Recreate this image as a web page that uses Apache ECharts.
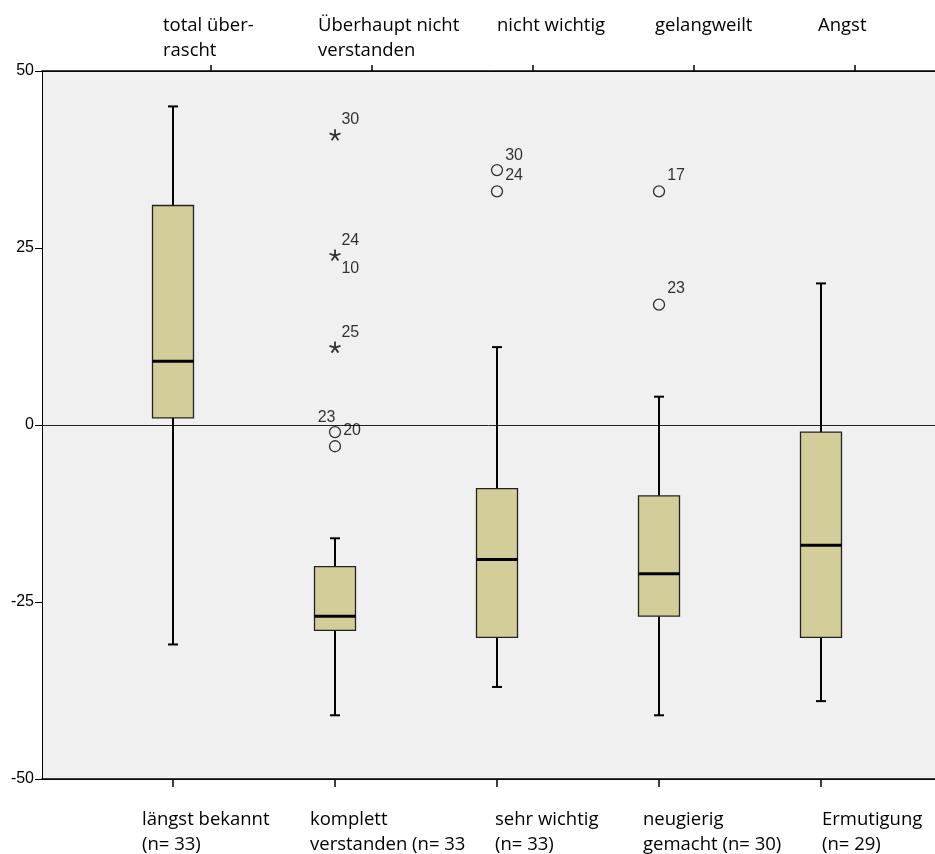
<!DOCTYPE html>
<html>
<head>
<meta charset="utf-8">
<script src="https://cdn.jsdelivr.net/npm/echarts@6.0.0/dist/echarts.min.js"></script>
<style>
  html, body { margin: 0; padding: 0; background: #fff; }
  #chart { width: 935px; height: 854px; }
</style>
</head>
<body>
<div id="chart"></div>
<script>
// Kategorien (unten und oben)
const bottomLabels = ['längst bekannt\n(n= 33)', 'komplett\nverstanden (n= 33', 'sehr wichtig\n(n= 33)', 'neugierig\ngemacht (n= 30)', 'Ermutigung\n(n= 29)'];
const topLabels = ['total über-\nrascht', 'Überhaupt nicht\nverstanden', 'nicht wichtig', 'gelangweilt', 'Angst'];

// Boxplot-Werte je Kategorie
const whiskerLow = [-31, -41, -37, -41, -39];
const q1 = [1, -29, -30, -27, -30];
const median = [9, -27, -19, -21, -17];
const q3 = [31, -20, -9, -10, -1];
const whiskerHigh = [45, -16, 11, 4, 20];

// Extremwerte (*) und Ausreißer (o)
const starCat = [1, 1, 1];
const starVals = [41, 24, 11];
const starIds = ['30', '24\n\n10', '25'];
const circleCat = [1, 1, 2, 2, 3, 3];
const circleVals = [-1, -3, 36, 33, 33, 17];
const circleIds = ['20', '', '30', '24', '17', '23'];
const circleIdsLeft = ['23', '', '', '', '', ''];

const yMin = -50, yMax = 50, yStep = 25;

// label placement tweaks (style only)
const topPad = [9, 2, 19, 15, 16];
const bottomPad = [4, 10, 33, 19, 36];
const circleLabelOffset = [[0, -1], [0, 0], [0, -15], [0, -16], [0, -16], [0, -16]];

const catFont = '"Open Sans", Lato, sans-serif';
const numFont = '"Liberation Sans", Arial, sans-serif';

const myChart = echarts.init(document.getElementById('chart'));

const hiddenY = (gi) => ({
  type: 'value', gridIndex: gi, min: yMin, max: yMax, show: false
});

// rich-Stile, um einzelne Beschriftungen nach rechts zu schieben
const padRich = (pads) => {
  const rich = {};
  pads.forEach((p, i) => {
    rich['p' + i] = { padding: [0, 0, 0, p], fontSize: 18.5, fontFamily: catFont, color: '#000', lineHeight: 25 };
  });
  return rich;
};
const padFormatter = (labels) => (value, index) =>
  labels[index].split('\n').map((l) => '{p' + index + '|' + l + '}').join('\n');

const starPath = 'path://M0,0L0,-1M0,0L0.95,-0.31M0,0L0.59,0.81M0,0L-0.59,0.81M0,0L-0.95,-0.31';

const option = {
  animation: false,
  backgroundColor: '#fff',
  grid: [
    { left: 42, right: 0, top: 71, bottom: 75, show: true, backgroundColor: '#f0f0f0', borderWidth: 0 },
    { left: 92, width: 810, top: 71, bottom: 75 },
    { left: 130, width: 808, top: 71, bottom: 75 },
    { left: 73, width: 810, top: 71, bottom: 75 },
    { left: 57, width: 810, top: 71, bottom: 75 }
  ],
  xAxis: [
    { type: 'value', gridIndex: 0, position: 'bottom', min: 0, max: 1,
      axisLine: { show: true, onZero: false, lineStyle: { color: '#000', width: 1.5 } },
      axisTick: { show: false }, axisLabel: { show: false }, splitLine: { show: false } },
    { type: 'value', gridIndex: 0, position: 'top', min: 0, max: 1,
      axisLine: { show: true, onZero: false, lineStyle: { color: '#000', width: 1.5 } },
      axisTick: { show: false }, axisLabel: { show: false }, splitLine: { show: false } },
    { type: 'category', gridIndex: 1, position: 'bottom', data: bottomLabels,
      axisLine: { show: false, onZero: false },
      axisTick: { show: true, alignWithLabel: true, length: 8, lineStyle: { color: '#000', width: 1.5 } },
      axisLabel: { show: false }, splitLine: { show: false } },
    { type: 'category', gridIndex: 2, position: 'top', data: topLabels,
      axisLine: { show: false, onZero: false },
      axisTick: { show: true, alignWithLabel: true, length: 6, lineStyle: { color: '#000', width: 1.5 } },
      axisLabel: { show: false }, splitLine: { show: false } },
    { type: 'category', gridIndex: 3, position: 'top', data: topLabels,
      axisLine: { show: false, onZero: false }, axisTick: { show: false }, splitLine: { show: false },
      axisLabel: { interval: 0, align: 'left', verticalAlign: 'top', margin: 58,
        formatter: padFormatter(topLabels), rich: padRich(topPad) } },
    { type: 'category', gridIndex: 4, position: 'bottom', data: bottomLabels,
      axisLine: { show: false, onZero: false }, axisTick: { show: false }, splitLine: { show: false },
      axisLabel: { interval: 0, align: 'left', verticalAlign: 'top', margin: 30,
        formatter: padFormatter(bottomLabels), rich: padRich(bottomPad) } }
  ],
  yAxis: [
    { type: 'value', gridIndex: 0, position: 'left', min: yMin, max: yMax, interval: yStep,
      axisLine: { show: true, lineStyle: { color: '#000', width: 1 } },
      axisTick: { show: true, length: 7, lineStyle: { color: '#000', width: 1 } },
      axisLabel: { fontSize: 16, fontFamily: numFont, color: '#000', margin: 8 },
      splitLine: { show: false } },
    // nur für die Referenzlinie bei 0
    { type: 'value', gridIndex: 0, position: 'right', min: yMin, max: yMax, interval: 50,
      axisLine: { show: false }, axisTick: { show: false }, axisLabel: { show: false },
      splitLine: { show: true, lineStyle: { color: '#222', width: 1 } } },
    hiddenY(1), hiddenY(2), hiddenY(3), hiddenY(4)
  ],
  series: [
    {
      type: 'custom',
      xAxisIndex: 2,
      yAxisIndex: 2,
      encode: { x: 0, y: [1, 2, 3, 4, 5] },
      data: median.map((m, i) => [i, whiskerLow[i], q1[i], m, q3[i], whiskerHigh[i]]),
      renderItem: (params, api) => {
        const i = api.value(0);
        const lo = api.coord([i, api.value(1)]);
        const b1 = api.coord([i, api.value(2)]);
        const md = api.coord([i, api.value(3)]);
        const b3 = api.coord([i, api.value(4)]);
        const hi = api.coord([i, api.value(5)]);
        const cx = lo[0];
        const half = 20.5;
        const cap = 5;
        const whisk = { stroke: '#000', lineWidth: 2 };
        return {
          type: 'group',
          children: [
            { type: 'line', shape: { x1: cx, y1: hi[1], x2: cx, y2: b3[1] }, style: whisk },
            { type: 'line', shape: { x1: cx, y1: b1[1], x2: cx, y2: lo[1] }, style: whisk },
            { type: 'line', shape: { x1: cx - cap, y1: hi[1], x2: cx + cap, y2: hi[1] }, style: whisk },
            { type: 'line', shape: { x1: cx - cap, y1: lo[1], x2: cx + cap, y2: lo[1] }, style: whisk },
            { type: 'rect', shape: { x: cx - half, y: b3[1], width: half * 2, height: b1[1] - b3[1] },
              style: { fill: '#d3ce99', stroke: '#222', lineWidth: 1.3 } },
            { type: 'line', shape: { x1: cx - half, y1: md[1], x2: cx + half, y2: md[1] },
              style: { stroke: '#000', lineWidth: 3 } }
          ]
        };
      },
      z: 3
    },
    {
      type: 'scatter',
      xAxisIndex: 2,
      yAxisIndex: 2,
      symbol: starPath,
      symbolSize: 11,
      itemStyle: { color: 'rgba(0,0,0,0)', borderColor: '#000', borderWidth: 1.8 },
      label: {
        show: true, position: 'right', distance: 0, offset: [0, -15],
        fontSize: 16, fontFamily: numFont, color: '#000', lineHeight: 14,
        formatter: (p) => starIds[p.dataIndex]
      },
      data: starVals.map((v, i) => ({
        value: [starCat[i], v],
        label: starIds[i].indexOf('\n') >= 0 ? { offset: [0, 0] } : undefined
      })),
      z: 4
    },
    {
      type: 'scatter',
      xAxisIndex: 2,
      yAxisIndex: 2,
      symbol: 'circle',
      symbolSize: 11,
      itemStyle: { color: 'rgba(0,0,0,0)', borderColor: '#000', borderWidth: 1.3 },
      label: {
        show: true, position: 'right', distance: 2,
        fontSize: 16, fontFamily: numFont, color: '#000',
        formatter: (p) => circleIds[p.dataIndex]
      },
      data: circleVals.map((v, i) => ({
        value: [circleCat[i], v],
        label: { offset: circleLabelOffset[i] }
      })),
      z: 4
    },
    {
      type: 'scatter',
      xAxisIndex: 2,
      yAxisIndex: 2,
      symbolSize: 11,
      itemStyle: { color: 'rgba(0,0,0,0)' },
      label: {
        show: true, position: 'left', distance: 0, offset: [6, -14],
        fontSize: 16, fontFamily: numFont, color: '#000',
        formatter: (p) => circleIdsLeft[p.dataIndex]
      },
      data: circleVals.map((v, i) => [circleCat[i], v]),
      silent: true,
      z: 4
    }
  ]
};

myChart.setOption(option);

window.addEventListener('resize', () => {
  myChart && myChart.resize();
});
</script>
</body>
</html>
